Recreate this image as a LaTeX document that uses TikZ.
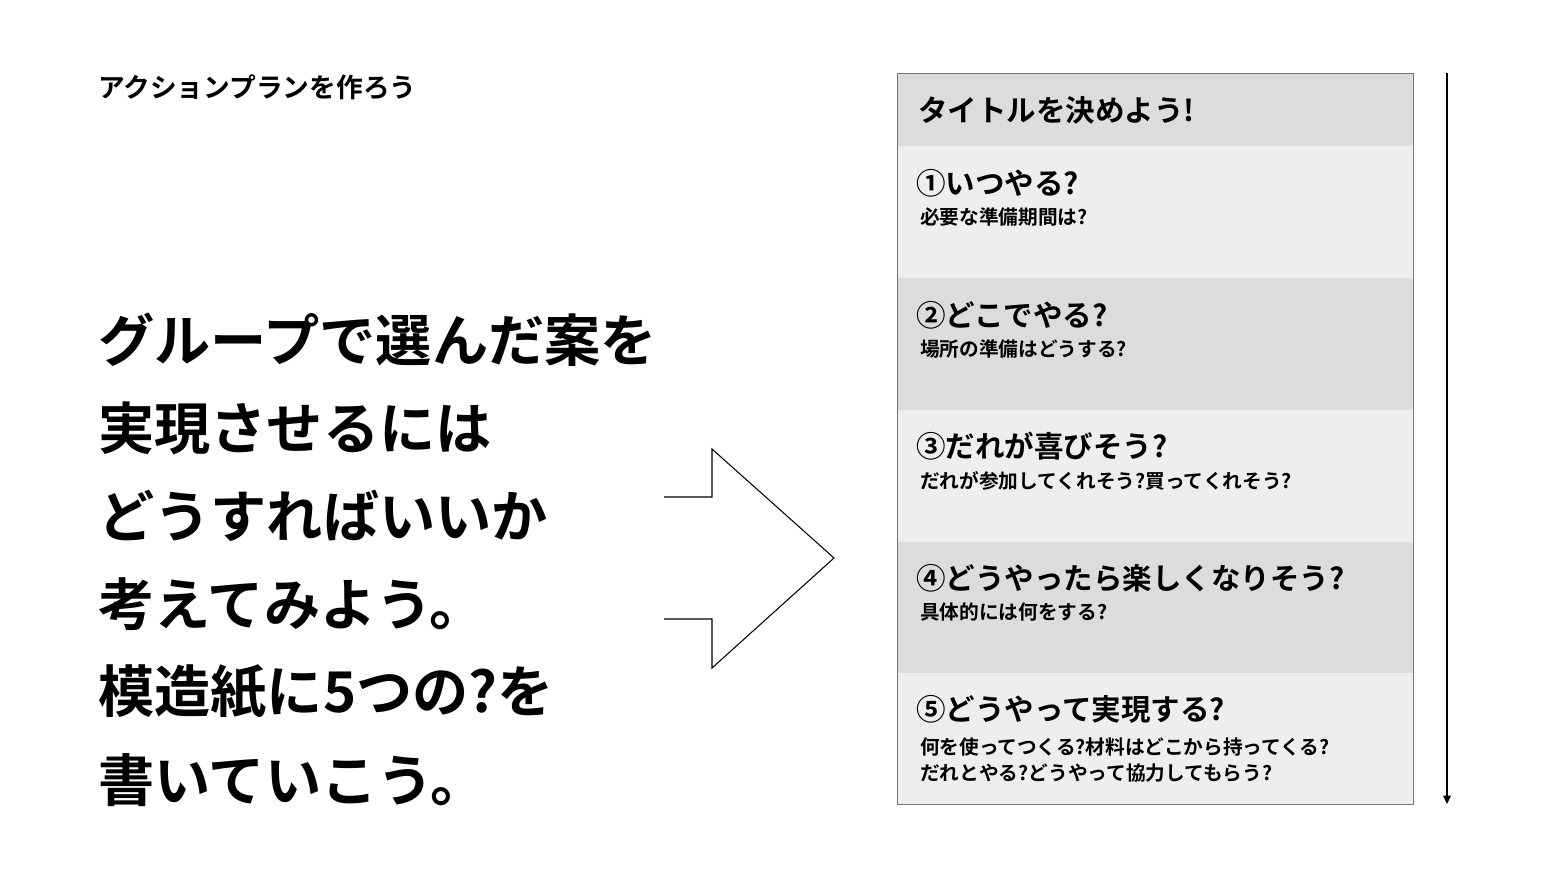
\documentclass[tikz,border=0pt]{standalone}
\usepackage{fontspec}
\setmainfont{Noto Sans CJK JP}[BoldFont={* Bold}]
\usetikzlibrary{arrows.meta}
\definecolor{dk}{HTML}{DCDCDC}
\definecolor{lt}{HTML}{EEEEEE}
\definecolor{bd}{HTML}{777777}
\begin{document}
\begin{tikzpicture}[x=0.05cm,y=-0.05cm,
  big/.style={anchor=west,inner sep=0,font=\fontsize{80}{80}\selectfont\bfseries},
  head/.style={anchor=west,inner sep=0,font=\fontsize{42}{42}\selectfont\bfseries},
  sub/.style={anchor=west,inner sep=0,font=\fontsize{28}{36}\selectfont\bfseries,align=left}]
\useasboundingbox[fill=white] (0,0) rectangle (1560,878);
\node[anchor=west,inner sep=0,font=\fontsize{38}{38}\selectfont\bfseries] (t) at (98,87) {アクションプランを作ろう};
\node[big] (l1) at (98,340) {グループで選んだ案を};
\node[big] (l2) at (98,428) {実現させるには};
\node[big] (l3) at (98,516) {どうすればいいか};
\node[big] (l4) at (98,604) {考えてみよう。};
\node[big] (l5) at (98,692) {模造紙に5つの?を};
\node[big] (l6) at (98,780) {書いていこう。};
\draw[line width=1.5pt,line join=miter] (664,497)--(712,497)--(712,449)--(834,558)--(712,668)--(712,619)--(664,619);
\fill[dk] (897,73) rectangle (1413,146);
\fill[lt] (897,146) rectangle (1413,278);
\fill[dk] (897,278) rectangle (1413,410);
\fill[lt] (897,410) rectangle (1413,542);
\fill[dk] (897,542) rectangle (1413,673);
\fill[lt] (897,673) rectangle (1413,804);
\draw[bd,line width=1pt] (897,73) rectangle (1413,804);
\node[head] (h0) at (918,110) {タイトルを決めよう!};
\node[head] (h1) at (916,183) {①いつやる?};
\node[sub] (s1) at (920,217) {必要な準備期間は?};
\node[head] (h2) at (916,315) {②どこでやる?};
\node[sub] (s2) at (920,349) {場所の準備はどうする?};
\node[head] (h3) at (916,446) {③だれが喜びそう?};
\node[sub] (s3) at (920,481) {だれが参加してくれそう?買ってくれそう?};
\node[head] (h4) at (916,578) {④どうやったら楽しくなりそう?};
\node[sub] (s4) at (920,612) {具体的には何をする?};
\node[head] (h5) at (916,709) {⑤どうやって実現する?};
\node[sub] (s5) at (920,760) {何を使ってつくる?材料はどこから持ってくる?\\だれとやる?どうやって協力してもらう?};
\coordinate (a1) at (1447,73);
\coordinate (a2) at (1447,804);
\draw[line width=1.5pt,-{Triangle[length=12pt,width=11pt]}] (a1)--(a2);
\end{tikzpicture}
\end{document}
